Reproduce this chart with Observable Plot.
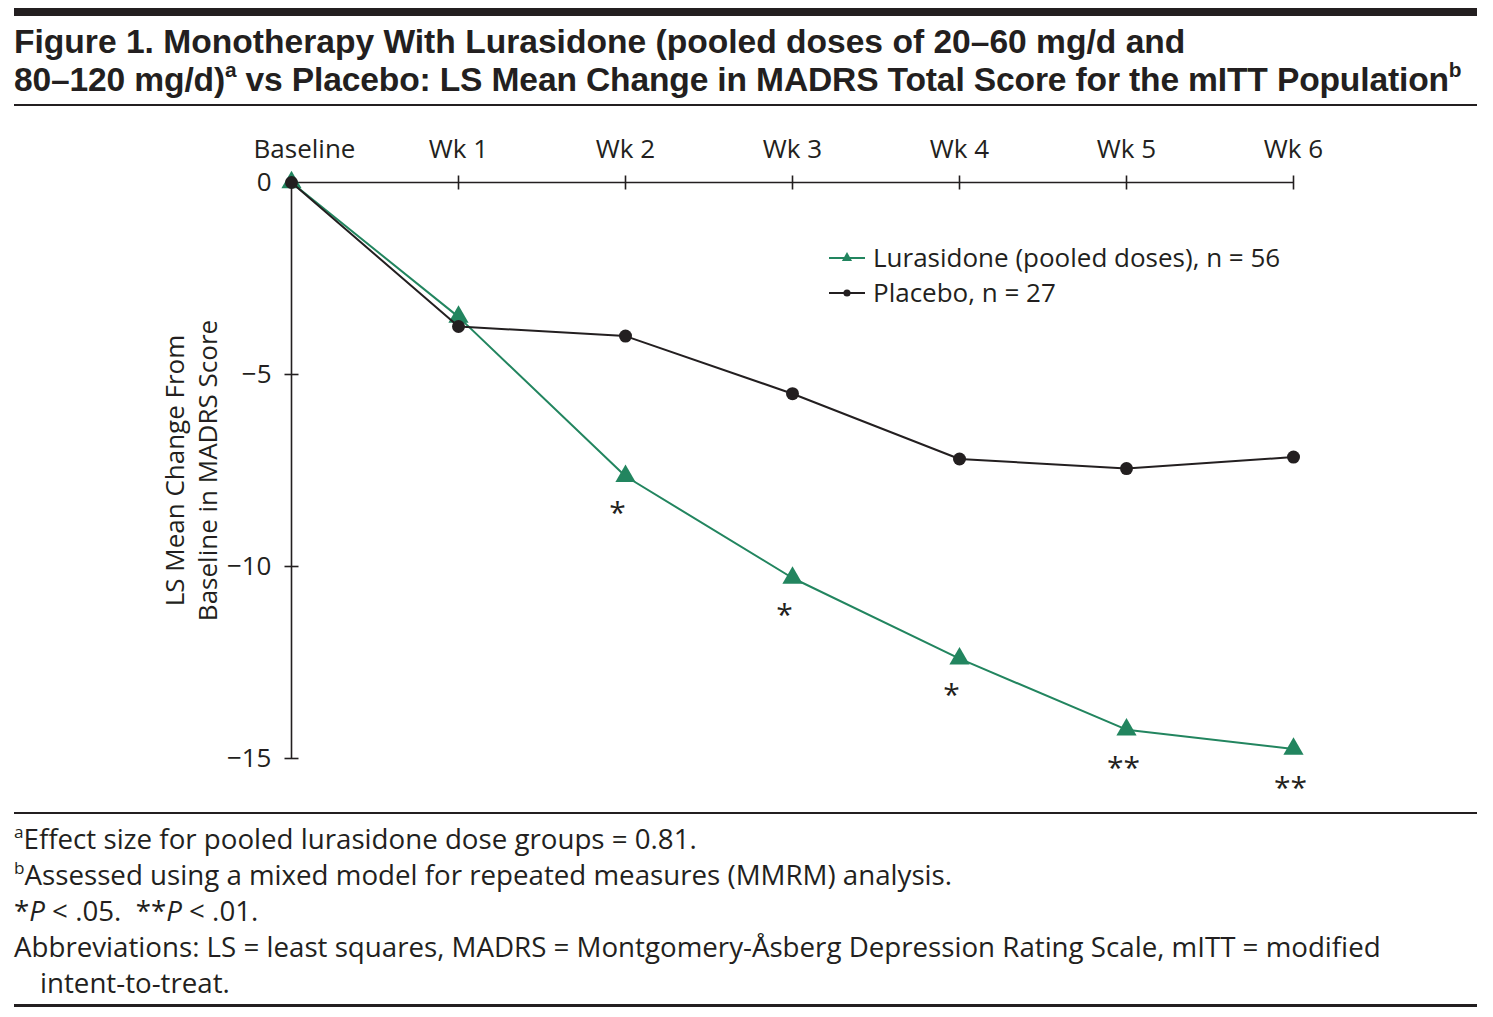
<!DOCTYPE html>
<html>
<head>
<meta charset="utf-8">
<script src="https://cdn.jsdelivr.net/npm/d3@7"></script>
<script src="https://cdn.jsdelivr.net/npm/@observablehq/plot@0.6"></script>
<style>
  html, body { margin: 0; padding: 0; background: #fff; }
  body { width: 1493px; height: 1017px; position: relative; overflow: hidden; color: #231f20; font-family: "Open Sans", sans-serif; }
  .bar { position: absolute; left: 14px; width: 1463px; background: #231f20; }
  .title { position: absolute; left: 14px; font-family: "Liberation Sans", Arial, sans-serif; font-weight: bold; font-size: 33.6px; line-height: 38px; white-space: nowrap; }
  .title sup, .foot sup { font-size: 0.62em; vertical-align: 0; position: relative; top: -0.65em; }
  .foot { position: absolute; left: 14px; font-size: 27.7px; line-height: 36px; white-space: nowrap; }
  #chart { position: absolute; left: 0; top: 105px; }
  #legend { position: absolute; left: 828px; top: 240px; font-size: 26px; line-height: 35px; }
  #legend div { display: flex; align-items: center; white-space: nowrap; }
  #legend svg { margin-right: 7px; }
</style>
</head>
<body>
<div class="bar" style="top:8px;height:8px"></div>
<div class="title" style="top:23px">Figure 1. Monotherapy With Lurasidone (pooled doses of 20–60 mg/d and</div>
<div class="title" style="top:61px;letter-spacing:-0.15px">80–120 mg/d)<sup>a</sup> vs Placebo: LS Mean Change in MADRS Total Score for the mITT Population<sup>b</sup></div>
<div class="bar" style="top:104px;height:2px"></div>
<div id="chart"></div>
<div id="legend"></div>
<div class="bar" style="top:812px;height:2px"></div>
<div class="foot" style="top:820px"><sup>a</sup>Effect size for pooled lurasidone dose groups = 0.81.</div>
<div class="foot" style="top:856px"><sup>b</sup>Assessed using a mixed model for repeated measures (MMRM) analysis.</div>
<div class="foot" style="top:892px">*<i>P</i> &lt; .05.&nbsp; **<i>P</i> &lt; .01.</div>
<div class="foot" style="top:928px">Abbreviations: LS = least squares, MADRS = Montgomery-Åsberg Depression Rating Scale, mITT = modified</div>
<div class="foot" style="top:964px;left:40px">intent-to-treat.</div>
<div class="bar" style="top:1004px;height:3px"></div>
<script>
// ---- data ----
const weeks = ["Baseline", "Wk 1", "Wk 2", "Wk 3", "Wk 4", "Wk 5", "Wk 6"];
const lurasidone = [0, -3.5, -7.65, -10.3, -12.4, -14.25, -14.75];
const placebo = [0, -3.75, -4.0, -5.5, -7.2, -7.45, -7.15];
const significance = ["", "", "*", "*", "*", "**", "**"];
const yTicks = [0, -5, -10, -15];
const seriesNames = ["Lurasidone (pooled doses), n = 56", "Placebo, n = 27"];
const yTitle = "LS Mean Change From\nBaseline in MADRS Score";

const green = "#22855f";
const ink = "#231f20";

const lurData = weeks.map((w, i) => ({week: w, value: lurasidone[i], sig: significance[i]}));
const plaData = weeks.map((w, i) => ({week: w, value: placebo[i]}));

const vTick = {draw(ctx) { ctx.moveTo(0, -7); ctx.lineTo(0, 7); }};
const hTick = {draw(ctx) { ctx.moveTo(-7, 0); ctx.lineTo(7, 0); }};

const chart = Plot.plot({
  width: 1493,
  height: 720,
  marginTop: 77,
  marginBottom: 67,
  marginLeft: 290,
  marginRight: 199,
  style: {fontFamily: "'Open Sans', sans-serif", fontSize: "26px", color: ink, background: "transparent", overflow: "visible"},
  x: {type: "point", domain: weeks, padding: 0, axis: null},
  y: {domain: [-15, 0], axis: null},
  marks: [
    Plot.ruleY([0], {stroke: ink, strokeWidth: 1.6}),
    Plot.ruleX(["Baseline"], {stroke: ink, strokeWidth: 1.6}),
    Plot.dot(weeks.slice(1), {x: d => d, y: () => 0, symbol: vTick, stroke: ink, strokeWidth: 1.6, r: 7}),
    Plot.dot(yTicks.slice(1), {x: () => "Baseline", y: d => d, symbol: hTick, stroke: ink, strokeWidth: 1.6, r: 7}),
    Plot.axisX(weeks.slice(0, 1), {anchor: "top", label: null, tickSize: 0, tickPadding: 25, dx: 13, fontSize: 26, fill: ink}),
    Plot.axisX(weeks.slice(1), {anchor: "top", label: null, tickSize: 0, tickPadding: 25, fontSize: 26, fill: ink}),
    Plot.axisY(yTicks, {anchor: "left", label: null, tickSize: 0, tickPadding: 19, fontSize: 26, fill: ink}),
    Plot.text([yTitle], {frameAnchor: "left", textAnchor: "middle", dx: -101, rotate: -90, fontSize: 26, lineHeight: 1.27, fill: ink}),
    Plot.line(lurData, {x: "week", y: "value", stroke: green, strokeWidth: 2}),
    Plot.dot(lurData, {x: "week", y: "value", symbol: "triangle", fill: green, r: 7.5}),
    Plot.line(plaData, {x: "week", y: "value", stroke: ink, strokeWidth: 2}),
    Plot.dot(plaData, {x: "week", y: "value", fill: ink, r: 6.5}),
    Plot.text(lurData.filter(d => d.sig === "*"), {x: "week", y: "value", text: "sig", dx: -8, dy: 37, fontSize: 30, fill: ink}),
    Plot.text(lurData.filter(d => d.sig === "**"), {x: "week", y: "value", text: "sig", dx: -3, dy: 39, fontSize: 30, fill: ink})
  ]
});
document.getElementById("chart").appendChild(chart);

// legend
const legend = d3.select("#legend");
const items = [
  {name: seriesNames[0], color: green, sym: d3.symbolTriangle},
  {name: seriesNames[1], color: ink, sym: d3.symbolCircle}
];
for (const it of items) {
  const row = legend.append("div");
  const s = row.append("svg").attr("width", 38).attr("height", 20);
  s.append("line").attr("x1", 1).attr("x2", 37).attr("y1", 10).attr("y2", 10).attr("stroke", it.color).attr("stroke-width", 2);
  s.append("path").attr("d", d3.symbol(it.sym, it.sym === d3.symbolCircle ? 40 : 45)()).attr("transform", "translate(19,10)").attr("fill", it.color);
  row.append("span").text(it.name);
}
</script>
</body>
</html>
